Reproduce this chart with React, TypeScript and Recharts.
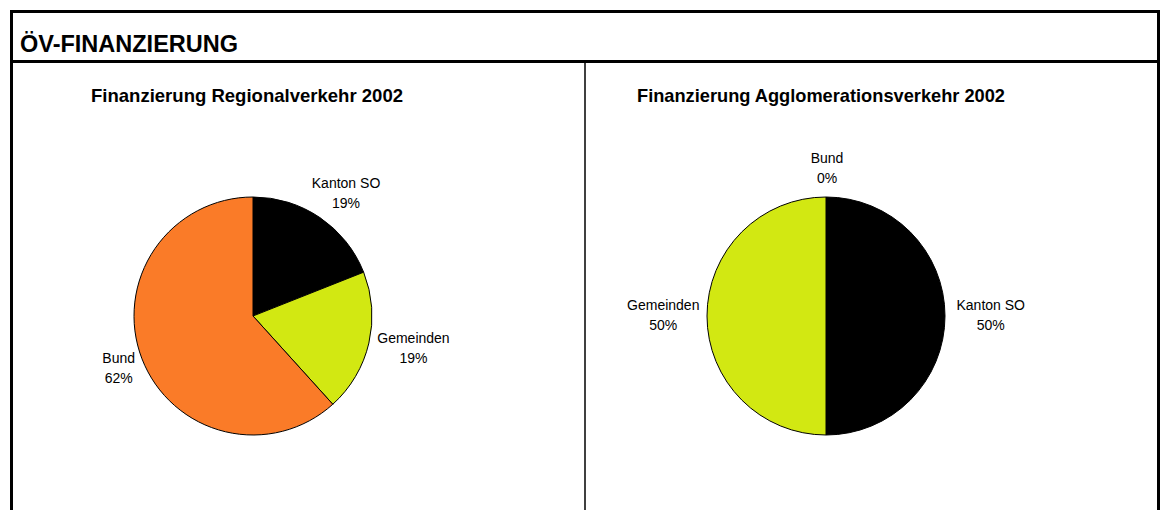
import React from 'react';
import { PieChart, Pie, Cell } from 'recharts';

const categories = ['Kanton SO', 'Gemeinden', 'Bund'];
const regionalValues = [19.0, 19.3, 61.7];
const agglomerationValues = [50, 50, 0];
const sliceColors = ['#000000', '#D2E812', '#FA7B28'];

const pageTitle = 'ÖV-FINANZIERUNG';
const leftTitle = 'Finanzierung Regionalverkehr 2002';
const rightTitle = 'Finanzierung Agglomerationsverkehr 2002';

const regionalData = categories.map((name, i) => ({ name, value: regionalValues[i] }));
const agglomerationData = categories.map((name, i) => ({ name, value: agglomerationValues[i] }));

const FONT = '"Liberation Sans", Arial, sans-serif';
const RAD = Math.PI / 180;

const renderLabel = (props: any) => {
  const { cx, cy, midAngle, outerRadius, percent, name } = props;
  const pct = `${Math.round(percent * 100)}%`;
  const dx = Math.cos(-midAngle * RAD);
  const dy = Math.sin(-midAngle * RAD);
  const w = Math.max(name.length, pct.length) * 7.5;
  const h = 34;
  const gap = 11;
  const x = cx + (outerRadius + gap) * dx + (dx * w) / 2 + 1;
  const y = cy + (outerRadius + gap) * dy + (dy * h) / 2 + 1;
  return (
    <text x={x} y={y} textAnchor="middle" fontFamily={FONT} fontSize={14} fill="#000">
      <tspan x={x} dy={-7}>{name}</tspan>
      <tspan x={x} dy={20}>{pct}</tspan>
    </text>
  );
};

const PiePanel = ({ data }: { data: { name: string; value: number }[] }) => (
  <PieChart width={571} height={447} margin={{ top: 0, right: 0, bottom: 0, left: 0 }}>
    <Pie
      data={data}
      dataKey="value"
      nameKey="name"
      cx={240}
      cy={253}
      outerRadius={119}
      startAngle={90}
      endAngle={-270}
      stroke="#000"
      strokeWidth={1}
      label={renderLabel}
      labelLine={false}
      isAnimationActive={false}
    >
      {data.map((d, i) => (
        <Cell key={d.name} fill={sliceColors[i]} stroke="#000" strokeWidth={1} />
      ))}
    </Pie>
  </PieChart>
);

export default function App() {
  return (
    <div style={{ position: 'fixed', left: 0, top: 0, width: 1166, height: 510, background: '#fff', overflow: 'hidden' }}>
      <svg width={1166} height={510} style={{ position: 'absolute', left: 0, top: 0 }}>
        <rect x={11.5} y={11.5} width={1147} height={520} fill="none" stroke="#000" strokeWidth={3} />
        <line x1={10} y1={61.5} x2={1160} y2={61.5} stroke="#000" strokeWidth={3} />
        <line x1={585} y1={63} x2={585} y2={510} stroke="#000" strokeWidth={1.5} />
        <text x={20} y={52} fontFamily={FONT} fontWeight="bold" fontSize={24} fill="#000" textLength={218} lengthAdjust="spacingAndGlyphs">{pageTitle}</text>
        <text x={91} y={102} fontFamily={FONT} fontWeight="bold" fontSize={18.5} fill="#000" textLength={312} lengthAdjust="spacingAndGlyphs">{leftTitle}</text>
        <text x={637} y={102} fontFamily={FONT} fontWeight="bold" fontSize={18.5} fill="#000" textLength={368} lengthAdjust="spacingAndGlyphs">{rightTitle}</text>
      </svg>
      <div style={{ position: 'absolute', left: 13, top: 63 }}>
        <PiePanel data={regionalData} />
      </div>
      <div style={{ position: 'absolute', left: 586, top: 63 }}>
        <PiePanel data={agglomerationData} />
      </div>
    </div>
  );
}
